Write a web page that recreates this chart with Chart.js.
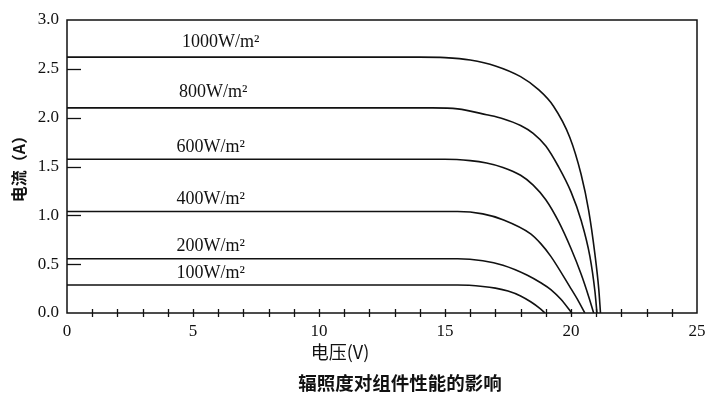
<!DOCTYPE html>
<html>
<head>
<meta charset="utf-8">
<script src="https://cdn.jsdelivr.net/npm/chart.js@4/dist/chart.umd.min.js"></script>
<style>
    html, body { margin: 0; padding: 0; background: #fff; }
    #wrap { width: 724px; height: 412px; }
</style>
</head>
<body>
<div id="wrap"><canvas id="iv-chart"></canvas></div>
<script>
// curve names (irradiance)
var irradiance = ['1000W/m²', '800W/m²', '600W/m²', '400W/m²', '200W/m²', '100W/m²'];

// voltage (V) / current (A)
var v1000 = [0, 14, 15, 16, 17, 18, 18.7, 19.3, 19.95, 20.4, 20.7, 20.95, 21.1, 21.17];
var i1000 = [2.62, 2.62, 2.615, 2.59, 2.53, 2.42, 2.29, 2.12, 1.8, 1.42, 1.05, 0.6, 0.25, 0];

var v800 = [0, 14.5, 15.5, 16.65, 17.3, 18, 18.5, 19, 19.5, 20.0, 20.4, 20.75, 20.95, 21.03];
var i800 = [2.1, 2.1, 2.09, 2.03, 1.99, 1.92, 1.84, 1.71, 1.5, 1.24, 0.95, 0.58, 0.22, 0];

var v600 = [0, 15, 16, 16.65, 17.3, 18, 18.5, 19, 19.5, 20, 20.4, 20.7, 20.9];
var i600 = [1.575, 1.575, 1.56, 1.535, 1.49, 1.41, 1.31, 1.16, 0.94, 0.66, 0.4, 0.17, 0];

var v400 = [0, 15.5, 16.5, 17.3, 18.4, 18.8, 19.2, 19.95, 20.3, 20.55];
var i400 = [1.04, 1.04, 1.015, 0.955, 0.81, 0.71, 0.58, 0.27, 0.12, 0];

var v200 = [0, 15.5, 16.5, 17.3, 18.25, 18.8, 19.2, 19.6, 20.03];
var i200 = [0.555, 0.555, 0.535, 0.49, 0.39, 0.31, 0.24, 0.14, 0];

var v100 = [0, 15.5, 16.5, 17, 17.5, 18, 18.4, 18.75, 18.97];
var i100 = [0.286, 0.286, 0.272, 0.255, 0.225, 0.175, 0.115, 0.05, 0];

var xTicks = [0, 5, 10, 15, 20, 25];
var yTicks = [0, 0.5, 1.0, 1.5, 2.0, 2.5, 3.0];

var allV = [v1000, v800, v600, v400, v200, v100];
var allI = [i1000, i800, i600, i400, i200, i100];

function toPoints(v, i) {
    var pts = [];
    for (var k = 0; k < v.length; k++) {
        pts.push({x: v[k], y: i[k]});
    }
    return pts;
}

var datasets = [];
for (var n = 0; n < irradiance.length; n++) {
    datasets.push({
        label: irradiance[n],
        data: toPoints(allV[n], allI[n]),
        borderColor: '#111',
        borderWidth: 1.6,
        pointRadius: 0,
        fill: false,
        cubicInterpolationMode: 'monotone'
    });
}

// where the curve names sit (data coords)
var labelAt = [[6.1, 2.77], [5.8, 2.26], [5.7, 1.70], [5.7, 1.16], [5.7, 0.68], [5.7, 0.41]];

var decor = {
    id: 'decor',
    afterDraw: function(chart) {
        var ctx = chart.ctx;
        var a = chart.chartArea;
        var xs = chart.scales.x;
        var ys = chart.scales.y;
        ctx.save();
        ctx.strokeStyle = '#111';
        ctx.lineWidth = 1.5;
        ctx.strokeRect(a.left, a.top, a.right - a.left, a.bottom - a.top);

        // x ticks every 1 V, crossing the axis
        ctx.lineWidth = 1.3;
        for (var t = 1; t < 25; t++) {
            var px = Math.round(xs.getPixelForValue(t)) + 0.5;
            ctx.beginPath();
            ctx.moveTo(px, a.bottom - 4);
            ctx.lineTo(px, a.bottom + 4);
            ctx.stroke();
        }
        // y ticks, pointing inside
        for (var j = 1; j < yTicks.length - 1; j++) {
            var py = Math.round(ys.getPixelForValue(yTicks[j])) + 0.5;
            ctx.beginPath();
            ctx.moveTo(a.left, py);
            ctx.lineTo(a.left + 14, py);
            ctx.stroke();
        }

        // curve names
        ctx.fillStyle = '#111';
        ctx.font = '18px "Liberation Serif", serif';
        ctx.textAlign = 'center';
        ctx.textBaseline = 'middle';
        for (var n = 0; n < irradiance.length; n++) {
            ctx.fillText(irradiance[n], xs.getPixelForValue(labelAt[n][0]), ys.getPixelForValue(labelAt[n][1]));
        }

        // axis titles
        ctx.font = '18px "Noto Sans CJK SC", sans-serif';
        ctx.fillText('电压(V)', 340, 352);

        ctx.save();
        ctx.translate(19, 165);
        ctx.rotate(-Math.PI / 2);
        ctx.font = 'bold 16px "Noto Sans CJK SC", sans-serif';
        ctx.fillText('电流（A）', 0, 0);
        ctx.restore();

        ctx.font = 'bold 18.5px "Noto Sans CJK SC", sans-serif';
        ctx.fillText('辐照度对组件性能的影响', 400, 383);
        ctx.restore();
    }
};

var chart = new Chart(document.getElementById('iv-chart'), {
    type: 'line',
    data: { datasets: datasets },
    options: {
        responsive: true,
        maintainAspectRatio: false,
        animation: false,
        layout: { padding: { left: 0, top: 20, right: 27, bottom: 69 } },
        plugins: {
            legend: { display: false },
            tooltip: { enabled: false }
        },
        scales: {
            x: {
                type: 'linear',
                min: 0,
                max: 25,
                afterFit: function(s) { s.height = 30; },
                afterBuildTicks: function(s) {
                    s.ticks = xTicks.map(function(v) { return {value: v}; });
                },
                border: { display: false },
                grid: { display: false, drawTicks: false },
                ticks: {
                    color: '#111',
                    padding: 8,
                    maxRotation: 0,
                    font: { family: '"Liberation Serif", serif', size: 17 },
                    callback: function(v) { return v; }
                }
            },
            y: {
                type: 'linear',
                min: 0,
                max: 3,
                afterFit: function(s) { s.width = 67; },
                afterBuildTicks: function(s) {
                    s.ticks = yTicks.map(function(v) { return {value: v}; });
                },
                border: { display: false },
                grid: { display: false, drawTicks: false },
                ticks: {
                    color: '#111',
                    padding: 8,
                    font: { family: '"Liberation Serif", serif', size: 17 },
                    callback: function(v) { return v.toFixed(1); }
                }
            }
        }
    },
    plugins: [decor]
});
</script>
</body>
</html>
